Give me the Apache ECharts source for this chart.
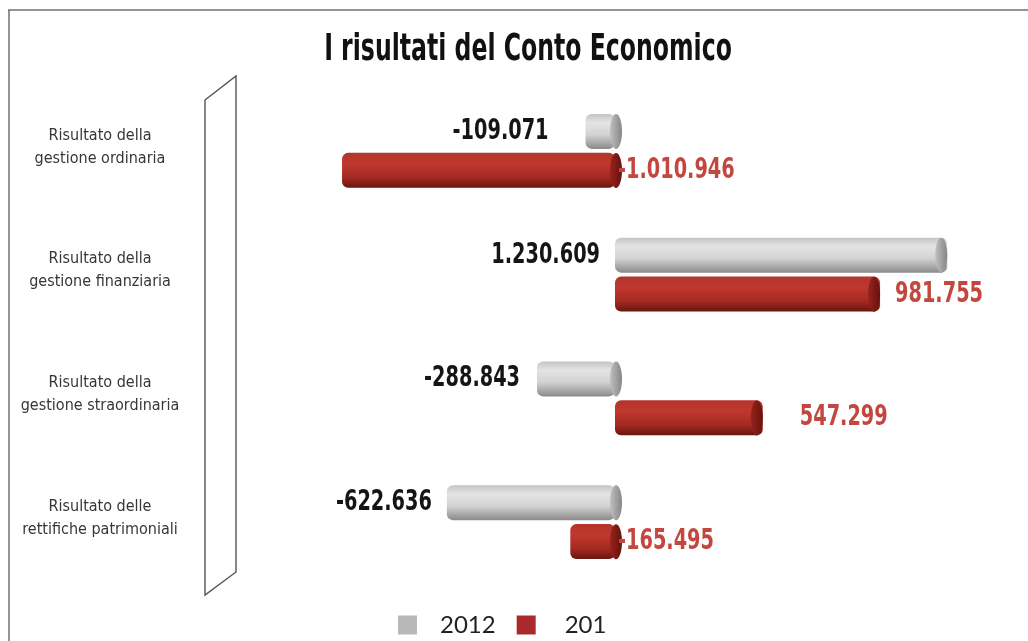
<!DOCTYPE html>
<html>
<head>
<meta charset="utf-8">
<title>I risultati del Conto Economico</title>
<script src="https://cdn.jsdelivr.net/npm/echarts@6/dist/echarts.min.js"></script>
<style>
  html, body { margin: 0; padding: 0; background: #ffffff; }
  #chart { width: 1028px; height: 641px; }
</style>
</head>
<body>
<div id="chart"></div>
<script>
// Categories (top to bottom) and results for the two years
const categories = [
  'Risultato della\ngestione ordinaria',
  'Risultato della\ngestione finanziaria',
  'Risultato della\ngestione straordinaria',
  'Risultato delle\nrettifiche patrimoniali'
];
const seriesNames = ['2012', '201'];
const values2012 = [-109071, 1230609, -288843, -622636];
const values201 = [-1010946, 981755, 547299, -165495];

// Distance of each value label from its bar (pixels)
const gap2012 = [37, 15, 17, 15];
const gap201 = [3, 15, 37, 3];

const NARROW = '"DejaVu Sans Condensed", "Liberation Sans Narrow", sans-serif';
const BAR_W = 35;
const BAR_GAP = 4;

function fmt(v) {
  const s = Math.abs(v).toString().replace(/\B(?=(\d{3})+(?!\d))/g, '.');
  return (v < 0 ? '-' : '') + s;
}

const grayBody = new echarts.graphic.LinearGradient(0, 0, 0, 1, [
  { offset: 0, color: '#c4c4c4' },
  { offset: 0.25, color: '#e4e4e4' },
  { offset: 0.6, color: '#d2d2d2' },
  { offset: 1, color: '#8a8a8a' }
]);
const redBody = new echarts.graphic.LinearGradient(0, 0, 0, 1, [
  { offset: 0, color: '#b3352c' },
  { offset: 0.3, color: '#bf382e' },
  { offset: 0.7, color: '#a42a22' },
  { offset: 1, color: '#68150f' }
]);
const grayCap = new echarts.graphic.LinearGradient(0, 0, 1, 0, [
  { offset: 0, color: '#c0c0c0' },
  { offset: 1, color: '#868686' }
]);
const redCap = new echarts.graphic.LinearGradient(0, 0, 1, 0, [
  { offset: 0, color: '#98231c' },
  { offset: 1, color: '#66120d' }
]);

// End face of each cylinder plus its value label.
// side: -1 for the upper bar of a row, +1 for the lower one.
// labelLeft: label sits left of the bar, otherwise right of it.
function cylinderEnd(side, capFill, labelLeft, gaps, textColor) {
  return function (params, api) {
    const v = api.value(0);
    const c = api.value(1);
    const rightEnd = api.coord([Math.max(v, 0), c]);
    const leftEnd = api.coord([Math.min(v, 0), c]);
    const cy = rightEnd[1] + side * (BAR_W / 2 + BAR_GAP / 2);
    const rx = 6;
    const capX = rightEnd[0] - rx + (v < 0 ? 7 : 0);
    const gap = gaps[params.dataIndex];
    const lx = labelLeft ? leftEnd[0] - gap : rightEnd[0] + gap;
    return {
      type: 'group',
      children: [
        {
          type: 'ellipse',
          shape: { cx: capX, cy: cy, rx: rx, ry: BAR_W / 2 },
          style: { fill: capFill }
        },
        {
          type: 'text',
          x: lx,
          y: cy,
          scaleX: 0.74,
          style: {
            text: fmt(v),
            font: 'bold 29px ' + NARROW,
            fill: textColor,
            align: labelLeft ? 'right' : 'left',
            verticalAlign: 'middle',
            textAlign: labelLeft ? 'right' : 'left',
            textVerticalAlign: 'middle'
          }
        }
      ]
    };
  };
}

const chart = echarts.init(document.getElementById('chart'), null, { renderer: 'canvas' });

const catTextStyle = { color: '#363636', fontFamily: NARROW, fontSize: 16, lineHeight: 23 };

chart.setOption({
  backgroundColor: '#ffffff',
  animation: false,
  grid: { left: 291, right: 35, top: 89, bottom: 57, containLabel: false },
  xAxis: {
    type: 'value',
    min: -1200000,
    max: 1400000,
    show: false,
    splitLine: { show: false }
  },
  yAxis: {
    type: 'category',
    inverse: true,
    data: categories,
    axisLine: { show: false },
    axisTick: { show: false },
    axisLabel: {
      align: 'center',
      margin: 191,
      // two text lines plus a short spacer line underneath lifts the block slightly
      formatter: function (value) {
        const lines = value.split('\n');
        return '{t|' + lines[0] + '}\n{t|' + lines[1] + '}\n{sp| }';
      },
      rich: {
        t: catTextStyle,
        sp: { fontSize: 2, lineHeight: 8 }
      }
    }
  },
  legend: {
    left: 393,
    top: 608,
    itemWidth: 19,
    itemHeight: 19,
    itemGap: 21,
    icon: 'rect',
    selectedMode: false,
    textStyle: { fontFamily: 'Lato, "Open Sans", sans-serif', fontSize: 24, color: '#222', padding: [0, 0, 0, 18] },
    data: [
      { name: seriesNames[0], itemStyle: { color: '#b8b8b8' } },
      { name: seriesNames[1], itemStyle: { color: '#a82a2a' }, textStyle: { padding: [0, 0, 0, 24] } }
    ]
  },
  graphic: [
    // frame
    { type: 'line', shape: { x1: 8, y1: 10, x2: 1028, y2: 10 }, style: { stroke: '#707070', lineWidth: 1.5 } },
    { type: 'line', shape: { x1: 9, y1: 10, x2: 9, y2: 641 }, style: { stroke: '#707070', lineWidth: 1.5 } },
    // side wall
    {
      type: 'polygon',
      shape: { points: [[205, 100], [236, 76], [236, 572], [205, 595]] },
      style: { fill: '#ffffff', stroke: '#555555', lineWidth: 1.4 }
    },
    // title
    {
      type: 'text',
      x: 528,
      y: 50,
      scaleX: 0.69,
      style: {
        text: 'I risultati del Conto Economico',
        font: 'bold 38px ' + NARROW,
        fill: '#111111',
        align: 'center',
        verticalAlign: 'middle'
      }
    }
  ],
  series: [
    {
      name: seriesNames[0],
      type: 'bar',
      barWidth: BAR_W,
      barGap: (BAR_GAP / BAR_W * 100).toFixed(1) + '%',
      data: values2012,
      itemStyle: { color: grayBody, borderRadius: 6 },
      z: 2
    },
    {
      name: seriesNames[1],
      type: 'bar',
      barWidth: BAR_W,
      data: values201,
      itemStyle: { color: redBody, borderRadius: 6 },
      z: 2
    },
    {
      name: 'end2012',
      type: 'custom',
      renderItem: cylinderEnd(-1, grayCap, true, gap2012, '#151515'),
      data: values2012.map((v, i) => [v, i]),
      encode: { x: 0, y: 1 },
      clip: false,
      silent: true,
      z: 3
    },
    {
      name: 'end201',
      type: 'custom',
      renderItem: cylinderEnd(1, redCap, false, gap201, '#c4473f'),
      data: values201.map((v, i) => [v, i]),
      encode: { x: 0, y: 1 },
      clip: false,
      silent: true,
      z: 3
    }
  ]
});
</script>
</body>
</html>
